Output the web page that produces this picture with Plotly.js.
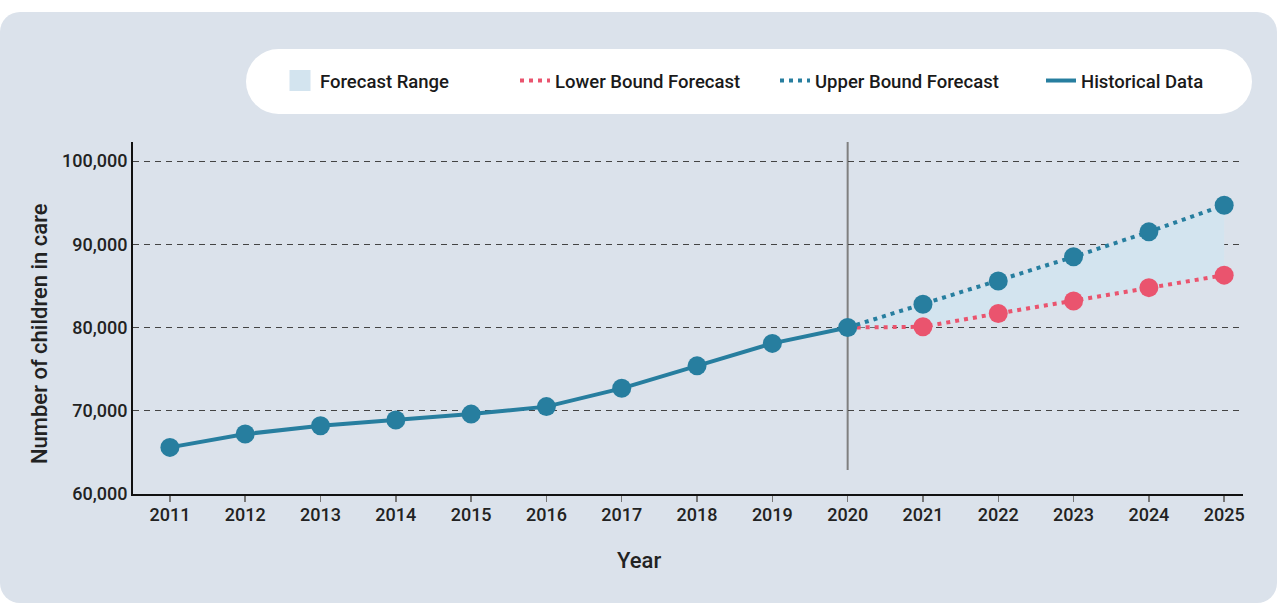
<!DOCTYPE html>
<html>
<head>
<meta charset="utf-8">
<script src="https://cdn.plot.ly/plotly-3.0.1.min.js"></script>
<style>
  html, body { margin: 0; padding: 0; background: #ffffff; }
  #wrap { position: relative; width: 1278px; height: 603px; overflow: hidden; }
  #panel { position: absolute; left: 0; top: 12px; width: 1277px; height: 591px;
           background: #dbe2eb; border-radius: 20px; }
  #pill { position: absolute; left: 246px; top: 49px; width: 1006px; height: 65px;
          background: #ffffff; border-radius: 33px; }
  #chart { position: absolute; left: 0; top: 0; width: 1278px; height: 603px; }
</style>
</head>
<body>
<div id="wrap">
  <div id="panel"></div>
  <div id="pill"></div>
  <div id="chart"></div>
</div>
<script>
// Children in care: recorded counts and the forecast band
const histYears = [2011, 2012, 2013, 2014, 2015, 2016, 2017, 2018, 2019, 2020];
const histValues = [65600, 67200, 68200, 68900, 69600, 70500, 72700, 75400, 78100, 80000];

const forecastYears = [2021, 2022, 2023, 2024, 2025];
const lowerBound = [80100, 81700, 83200, 84800, 86300];
const upperBound = [82800, 85600, 88500, 91500, 94700];

const yTicks = [60000, 70000, 80000, 90000, 100000];
const xTicks = [2011, 2012, 2013, 2014, 2015, 2016, 2017, 2018, 2019, 2020,
                2021, 2022, 2023, 2024, 2025];

const TEAL = '#277e9f';
const PINK = '#ea546e';
const BAND = '#d3e4ef';
const FONT = 'Roboto, "Noto Sans", sans-serif';
const DOTS = '4px,5px';

// forecasts start from the last recorded year
const lastYear = histYears[histYears.length - 1];
const lastValue = histValues[histValues.length - 1];
const fx = [lastYear].concat(forecastYears);
const fLow = [lastValue].concat(lowerBound);
const fHigh = [lastValue].concat(upperBound);

const traces = [
  { // lower edge of the band
    x: fx, y: fLow, type: 'scatter', mode: 'lines',
    line: { width: 0, color: BAND }, showlegend: false, hoverinfo: 'skip'
  },
  { // band filled up to the upper forecast
    x: fx, y: fHigh, type: 'scatter', mode: 'lines', fill: 'tonexty',
    fillcolor: BAND, line: { width: 0, color: BAND }, showlegend: false, hoverinfo: 'skip'
  },
  { // legend swatch for the band
    x: [null], y: [null], type: 'scatter', mode: 'markers', name: 'Forecast Range',
    marker: { symbol: 'square', size: 16, color: BAND, line: { color: BAND, width: 5 } },
    legendrank: 1, legendwidth: 190, hoverinfo: 'skip'
  },
  // forecast lines
  {
    x: fx, y: fLow, type: 'scatter', mode: 'lines', name: 'Lower Bound Forecast',
    line: { color: PINK, width: 4, dash: DOTS },
    legendrank: 2, legendwidth: 215
  },
  {
    x: fx, y: fHigh, type: 'scatter', mode: 'lines', name: 'Upper Bound Forecast',
    line: { color: TEAL, width: 4, dash: DOTS },
    legendrank: 3, legendwidth: 221
  },
  // forecast points
  {
    x: forecastYears, y: lowerBound, type: 'scatter', mode: 'markers',
    marker: { color: PINK, size: 19 }, showlegend: false
  },
  {
    x: forecastYears, y: upperBound, type: 'scatter', mode: 'markers',
    marker: { color: TEAL, size: 19 }, showlegend: false
  },
  // recorded series
  {
    x: histYears, y: histValues, type: 'scatter', mode: 'lines', name: 'Historical Data',
    line: { color: TEAL, width: 4 },
    legendrank: 4
  },
  {
    x: histYears, y: histValues, type: 'scatter', mode: 'markers',
    marker: { color: TEAL, size: 19 }, showlegend: false
  }
];

const layout = {
  width: 1278, height: 603,
  margin: { l: 133, r: 35, t: 142, b: 109 },
  paper_bgcolor: 'rgba(0,0,0,0)',
  plot_bgcolor: 'rgba(0,0,0,0)',
  font: { family: FONT, color: '#222222', size: 16 },
  showlegend: true,
  legend: {
    orientation: 'h', xref: 'container', yref: 'container',
    x: 280 / 1278, y: 1 - 81 / 603, xanchor: 'left', yanchor: 'middle',
    bgcolor: 'rgba(0,0,0,0)', borderwidth: 0,
    font: { family: FONT, size: 18.5, weight: 500, color: '#1a1a1a' },
    traceorder: 'normal'
  },
  xaxis: {
    range: [2010.51, 2025.25],
    tickmode: 'array', tickvals: xTicks, ticktext: xTicks.map(String),
    showgrid: false, zeroline: false,
    showline: true, linecolor: '#111111', linewidth: 2,
    ticks: 'outside', ticklen: 6, tickwidth: 1.5, tickcolor: '#777777',
    ticklabelstandoff: -3,
    tickfont: { family: FONT, size: 18, weight: 500, color: '#222222' },
    fixedrange: true
  },
  yaxis: {
    range: [60000, 102300],
    tickmode: 'array', tickvals: yTicks, tickformat: ',',
    showgrid: true, gridcolor: '#444444', gridwidth: 1, griddash: '6px,5px',
    zeroline: false,
    showline: true, linecolor: '#111111', linewidth: 2,
    ticks: '', ticklabelstandoff: 0,
    tickfont: { family: FONT, size: 18, weight: 500, color: '#222222' },
    fixedrange: true
  },
  shapes: [{
    type: 'line', xref: 'x', yref: 'paper',
    x0: lastYear, x1: lastYear, y0: 0.068, y1: 1,
    line: { color: '#7f7f7f', width: 2 }, layer: 'below'
  }],
  annotations: [
    {
      text: 'Number of children in care', xref: 'paper', yref: 'paper',
      x: (39 - 133) / 1110, y: (494 - 334) / 352, textangle: -90,
      showarrow: false, xanchor: 'center', yanchor: 'middle',
      font: { family: FONT, size: 22, weight: 500, color: '#222222' }
    },
    {
      text: 'Year', xref: 'paper', yref: 'paper',
      x: (639 - 133) / 1110, y: (494 - 560) / 352,
      showarrow: false, xanchor: 'center', yanchor: 'middle',
      font: { family: FONT, size: 22, weight: 500, color: '#222222' }
    }
  ]
};

Plotly.newPlot('chart', traces, layout, { displayModeBar: false, staticPlot: true });
</script>
</body>
</html>
